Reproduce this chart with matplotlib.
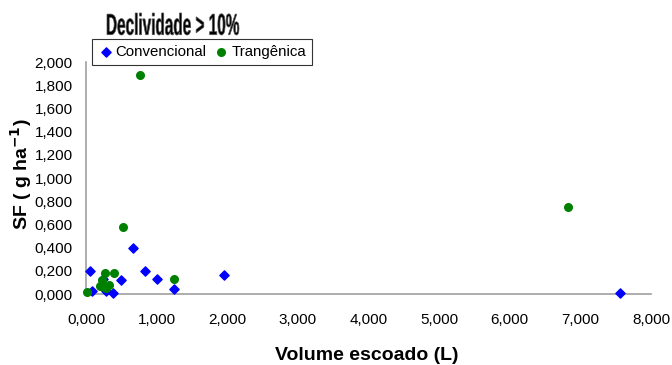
import matplotlib.pyplot as plt
from matplotlib.ticker import FuncFormatter
from matplotlib.textpath import TextPath
from matplotlib.patches import PathPatch
from matplotlib.font_manager import FontProperties
from matplotlib.transforms import Affine2D, IdentityTransform

plt.rcParams['font.family'] = ['Liberation Sans', 'DejaVu Sans']

# Convencional
conv_x = [0.06, 0.09, 0.24, 0.28, 0.38, 0.50, 0.66, 0.84, 1.00, 1.24, 1.95, 7.56]
conv_y = [0.20, 0.03, 0.13, 0.026, 0.01, 0.12, 0.40, 0.20, 0.13, 0.04, 0.16, 0.01]

# Trangênica
tran_x = [0.02, 0.27, 0.39, 0.53, 1.25, 0.20, 0.23, 0.26, 0.33, 0.29, 0.77, 6.82]
tran_y = [0.015, 0.18, 0.18, 0.58, 0.13, 0.07, 0.12, 0.06, 0.075, 0.05, 1.89, 0.75]

W, H = 672, 365
fig = plt.figure(figsize=(W / 100, H / 100), dpi=100)
ax = fig.add_axes([86 / W, 1 - 294 / H, 565 / W, 232 / H])

ax.scatter(conv_x, conv_y, marker='D', s=22, color='#0000FF', label='Convencional', zorder=3, clip_on=False)
ax.scatter(tran_x, tran_y, marker='o', s=30, color='#008000', label='Trangênica', zorder=3, clip_on=False)

ax.set_xlim(0, 8)
ax.set_ylim(0, 2)
ax.set_xticks(range(0, 9))
ax.set_yticks([i * 0.2 for i in range(11)])
fmt = FuncFormatter(lambda v, p: f"{v:.3f}".replace('.', ','))
ax.xaxis.set_major_formatter(fmt)
ax.yaxis.set_major_formatter(fmt)
ax.tick_params(length=0, labelsize=11)
ax.tick_params(axis='x', pad=14)
ax.tick_params(axis='y', pad=9.5)

for s in ['top', 'right']:
    ax.spines[s].set_visible(False)
for s in ['left', 'bottom']:
    ax.spines[s].set_color('#a0a0a0')
    ax.spines[s].set_linewidth(1.2)

fig.text(367 / W, 1 - 355 / H, 'Volume escoado (L)', fontsize=14, fontweight='bold',
         ha='center', va='center')
fig.text(21 / W, 1 - 174 / H, 'SF ( g ha$^{\\mathbf{-1}}$)', fontsize=14, fontweight='bold',
         rotation=90, ha='center', va='center')

leg = ax.legend(loc='upper left', bbox_to_anchor=(0.011, 1.099), ncol=2, frameon=True,
                fancybox=False, edgecolor='black', fontsize=10.8, handletextpad=0.15,
                columnspacing=0.5, borderpad=0.4, handlelength=1.0, borderaxespad=0)
leg.get_frame().set_linewidth(0.8)

# condensed title drawn as a squeezed text path
tp = TextPath((0, 0), 'Declividade > 10%', size=30,
              prop=FontProperties(family='Liberation Sans', weight='bold'))
bb = tp.get_extents()
x0, x1, top, base = 107, 239, 13, 35
sx = (x1 - x0) / bb.width
sy = (base - top) / bb.height
tr = Affine2D().translate(-bb.x0, -bb.y0).scale(sx, sy).translate(x0, H - base) + IdentityTransform()
fig.patches.append(PathPatch(tp, transform=tr, facecolor='black', edgecolor='#555555', lw=0.5,
                             figure=fig))

fig.savefig('out.png', dpi=100)
